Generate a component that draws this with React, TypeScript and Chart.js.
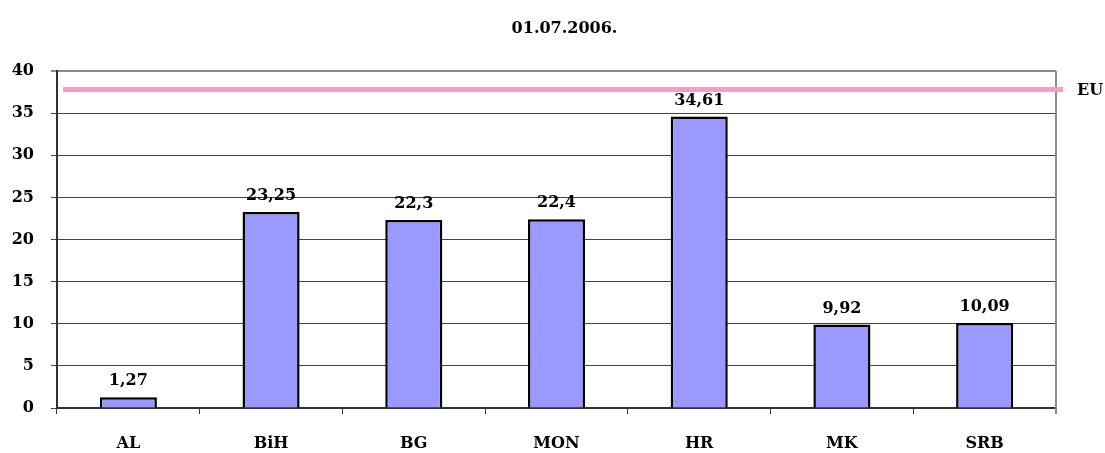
import React, { useEffect, useRef } from "react";
import { Chart, registerables } from "chart.js";

Chart.register(...registerables);

const categories = ["AL", "BiH", "BG", "MON", "HR", "MK", "SRB"];
const values = [1.27, 23.25, 22.3, 22.4, 34.61, 9.92, 10.09];
const valueLabels = ["1,27", "23,25", "22,3", "22,4", "34,61", "9,92", "10,09"];
const euLevel = 37.8;
const euLabel = "EU";
const titleText = "01.07.2006.";
const yTicks = [0, 5, 10, 15, 20, 25, 30, 35, 40];

const FONT = "'DejaVu Serif', serif";

export default function App() {
  const ref = useRef<HTMLCanvasElement | null>(null);

  useEffect(() => {
    document.body.style.margin = "0";
    const canvas = ref.current;
    if (!canvas) return;

    const overlay = {
      id: "overlay",
      afterDatasetsDraw(chart: any) {
        const { ctx } = chart;
        const meta = chart.getDatasetMeta(0);
        ctx.save();
        ctx.fillStyle = "#000";
        ctx.font = `bold 16px ${FONT}`;
        ctx.textAlign = "center";
        ctx.textBaseline = "middle";
        meta.data.forEach((el: any, i: number) => {
          ctx.fillText(valueLabels[i], el.x, el.y - 16);
        });
        ctx.restore();
      },
      afterDraw(chart: any) {
        const { ctx, chartArea, scales } = chart;
        ctx.save();
        ctx.strokeStyle = "#8c8c8c";
        ctx.lineWidth = 2;
        ctx.beginPath();
        ctx.moveTo(chartArea.right, chartArea.top);
        ctx.lineTo(chartArea.right, chartArea.bottom + 6);
        ctx.stroke();
        const y = scales.y.getPixelForValue(euLevel);
        ctx.strokeStyle = "#ff99cc";
        ctx.lineWidth = 5;
        ctx.beginPath();
        ctx.moveTo(chartArea.left + 6, y);
        ctx.lineTo(chartArea.right + 7, y);
        ctx.stroke();
        ctx.fillStyle = "#000";
        ctx.font = `bold 16px ${FONT}`;
        ctx.textAlign = "left";
        ctx.textBaseline = "middle";
        ctx.fillText(euLabel, chartArea.right + 21, y + 1);
        ctx.textAlign = "center";
        ctx.fillText(titleText, (chartArea.left + chartArea.right) / 2 + 8, 29);
        ctx.restore();
      },
    };

    const chart = new Chart(canvas, {
      type: "bar",
      data: {
        labels: categories,
        datasets: [
          {
            data: values,
            backgroundColor: "#9999ff",
            borderColor: "#000",
            borderWidth: 2.5,
            categoryPercentage: 0.4,
            barPercentage: 1,
          },
        ],
      },
      options: {
        responsive: false,
        animation: false,
        layout: { padding: { left: 0, right: 49, top: 71, bottom: 0 } },
        plugins: {
          legend: { display: false },
          tooltip: { enabled: false },
          title: { display: false },
        },
        scales: {
          x: {
            grid: {
              offset: true,
              drawOnChartArea: false,
              drawTicks: true,
              tickLength: 6,
              color: "#333",
              lineWidth: 1,
            },
            border: { display: true, color: "#333", width: 2 },
            ticks: {
              color: "#000",
              padding: 20,
              font: { family: FONT, size: 16, weight: "bold" },
            },
            afterFit(scale: any) {
              scale.height = 45;
            },
          },
          y: {
            min: 0,
            max: 40,
            afterBuildTicks(scale: any) {
              scale.ticks = yTicks.map((v) => ({ value: v }));
            },
            grid: {
              drawTicks: true,
              tickLength: 6,
              color: (c: any) => (c.tick && c.tick.value === 40 ? "#8c8c8c" : "#444"),
              lineWidth: (c: any) => (c.tick && c.tick.value === 40 ? 2 : 1),
            },
            border: { display: true, color: "#333", width: 2 },
            ticks: {
              color: "#000",
              padding: 17,
              font: { family: FONT, size: 16, weight: "bold" },
            },
            afterFit(scale: any) {
              scale.width = 57;
            },
          },
        },
      },
      plugins: [overlay],
    });

    return () => chart.destroy();
  }, []);

  return (
    <div style={{ width: 1105, height: 453 }}>
      <canvas ref={ref} width={1105} height={453} />
    </div>
  );
}
